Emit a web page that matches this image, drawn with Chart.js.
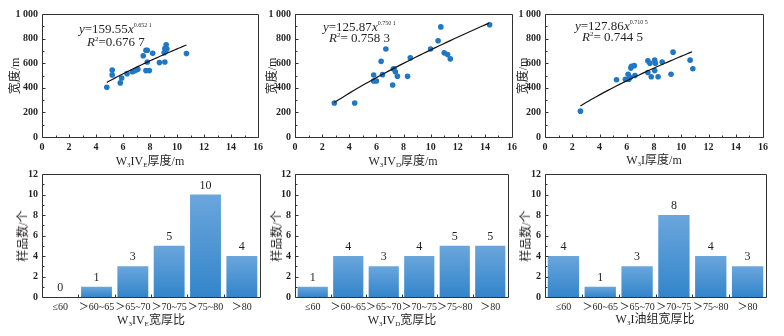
<!DOCTYPE html>
<html>
<head>
<meta charset="utf-8">
<script src="https://cdn.jsdelivr.net/npm/chart.js@4.4.0/dist/chart.umd.min.js"></script>
<style>
  html, body { margin: 0; padding: 0; background: #fff; }
  #wrap { position: relative; width: 784px; height: 336px; overflow: hidden; }
  #wrap canvas { position: absolute; left: 0; top: 0; }
  .txt { position: absolute; font-family: 'Liberation Serif', 'Noto Sans CJK SC', serif; color: #231f20; white-space: nowrap; line-height: 1; }
  .ttl { font-size: 12px; transform: translate(-50%, -50%); }
  .ytl { font-size: 12px; transform: translate(-50%, -50%) rotate(-90deg); }
  .eq { font-size: 13px; }
  .eq sup { font-size: 6px; vertical-align: 6px; }
  .eq .r2 { font-size: 7px; vertical-align: 5px; }
  sub { font-size: 7px; vertical-align: -2px; }
</style>
</head>
<body>
<div id="wrap">
  <canvas id="s1" width="784" height="336"></canvas>
  <canvas id="s2" width="784" height="336"></canvas>
  <canvas id="s3" width="784" height="336"></canvas>
  <canvas id="b1" width="784" height="336"></canvas>
  <canvas id="b2" width="784" height="336"></canvas>
  <canvas id="b3" width="784" height="336"></canvas>

  <!-- regression equations -->
  <div class="txt eq" style="left:79px;top:22px"><i>y</i>=159.55<i>x</i><sup>0.652 1</sup></div>
  <div class="txt eq" style="left:87px;top:35px"><i>R</i><span class="r2">2</span>=0.676 7</div>
  <div class="txt eq" style="left:323px;top:20px"><i>y</i>=125.87<i>x</i><sup>0.750 1</sup></div>
  <div class="txt eq" style="left:329px;top:31px"><i>R</i><span class="r2">2</span>= 0.758 3</div>
  <div class="txt eq" style="left:575px;top:19px"><i>y</i>=127.86<i>x</i><sup>0.710 5</sup></div>
  <div class="txt eq" style="left:582px;top:30px"><i>R</i><span class="r2">2</span>= 0.744 5</div>

  <!-- axis titles -->
  <div class="txt ytl" style="left:15px;top:76px">宽度/m</div>
  <div class="txt ytl" style="left:272px;top:76px">宽度/m</div>
  <div class="txt ytl" style="left:523px;top:76px">宽度/m</div>
  <div class="txt ttl" style="left:150px;top:162px">W<sub>3</sub>IV<sub>E</sub>厚度/m</div>
  <div class="txt ttl" style="left:403px;top:162px">W<sub>3</sub>IV<sub>D</sub>厚度/m</div>
  <div class="txt ttl" style="left:654px;top:161px">W<sub>3</sub>I厚度/m</div>

  <div class="txt ytl" style="left:23px;top:236px">样品数/个</div>
  <div class="txt ytl" style="left:277px;top:236px">样品数/个</div>
  <div class="txt ytl" style="left:526px;top:236px">样品数/个</div>
  <div class="txt ttl" style="left:151px;top:321px">W<sub>3</sub>IV<sub>E</sub>宽厚比</div>
  <div class="txt ttl" style="left:402px;top:321px">W<sub>3</sub>IV<sub>D</sub>宽厚比</div>
  <div class="txt ttl" style="left:655px;top:320px">W<sub>3</sub>I油组宽厚比</div>
</div>

<script>
// thickness (m) vs width (m) of each sand body
const thickE = [4.8, 5.2, 5.2, 5.8, 5.9, 6.3, 6.7, 6.9, 7.1, 7.5, 7.7, 7.8, 7.7, 7.95, 7.8, 8.2, 8.7, 9.1, 9.2, 9.1, 9.25, 9.15, 9.05, 10.7];
const widthE = [405, 505, 545, 440, 480, 515, 530, 540, 550, 660, 705, 705, 540, 540, 610, 680, 605, 610, 750, 720, 715, 700, 685, 678];

const thickD = [2.9, 4.4, 5.8, 5.8, 6.0, 6.35, 6.45, 6.7, 7.2, 7.25, 7.3, 7.4, 7.55, 8.3, 8.5, 10.0, 10.55, 10.75, 11.0, 11.25, 11.45, 14.35];
const widthD = [276, 276, 504, 455, 455, 615, 507, 715, 423, 553, 555, 531, 493, 493, 643, 715, 783, 895, 684, 670, 635, 912];

const thickI = [2.6, 5.25, 5.9, 6.1, 6.15, 6.25, 6.3, 6.35, 6.55, 6.6, 7.55, 7.7, 8.05, 8.1, 8.6, 7.55, 7.8, 8.05, 8.3, 9.25, 9.4, 10.65, 10.85];
const widthI = [210, 465, 470, 510, 470, 485, 560, 575, 580, 500, 620, 600, 625, 600, 610, 525, 490, 540, 490, 510, 690, 625, 555];

// power-law fits y = a * x^b, drawn between the listed thickness limits
const fitE = [159.55, 0.6521], rangeE = [4.8, 10.7];
const fitD = [125.87, 0.7501], rangeD = [2.9, 14.3];
const fitI = [127.86, 0.7105], rangeI = [2.6, 10.8];

// width/thickness ratio histograms
const ratioBins = ['≤60', '＞60~65', '＞65~70', '＞70~75', '＞75~80', '＞80'];
const countE = [0, 1, 3, 5, 10, 4];
const countD = [1, 4, 3, 4, 5, 5];
const countI = [4, 1, 3, 8, 4, 3];

const FONT = "'Liberation Serif', 'Noto Sans CJK SC', serif";
const INK = '#231f20';
const W = 784, H = 336;
const YW = 40, XH = 30;   // fixed axis box sizes
const numFont = { family: FONT, size: 10, weight: 'bold' };

// border box plus short inward ticks (major and minor)
const framePlugin = {
  id: 'frame',
  afterDatasetsDraw(chart) {
    const { ctx, chartArea: a, scales } = chart;
    const kind = chart.options.plugins.frame.kind;
    ctx.save();
    ctx.strokeStyle = '#333';
    ctx.lineWidth = 1;
    ctx.beginPath();
    const L = Math.round(a.left) + 0.5, R = Math.round(a.right) + 0.5;
    const T = Math.round(a.top) + 0.5, B = Math.round(a.bottom) + 0.5;
    ctx.rect(L, T, R - L, B - T);
    const yS = scales.y, xS = scales.x;
    const yMax = yS.max, yStep = kind === 'bar' ? 2 : 200;
    for (let v = 0; v <= yMax; v += yStep / 2) {
      const p = Math.round(yS.getPixelForValue(v)) + 0.5;
      const len = (v % yStep === 0) ? 3 : 2;
      ctx.moveTo(L, p); ctx.lineTo(L + len, p);
    }
    if (kind === 'bar') {
      const n = chart.data.labels.length;
      for (let i = 0; i < n - 1; i++) {
        const p = Math.round((xS.getPixelForValue(i) + xS.getPixelForValue(i + 1)) / 2) + 0.5;
        ctx.moveTo(p, B); ctx.lineTo(p, B - 3);
      }
    } else {
      for (let v = 0; v <= 16; v += 1) {
        const p = Math.round(xS.getPixelForValue(v)) + 0.5;
        const len = (v % 2 === 0) ? 3 : 2;
        ctx.moveTo(p, B); ctx.lineTo(p, B - len);
      }
    }
    ctx.stroke();
    ctx.restore();
  }
};

// count labels above the bars
const valuePlugin = {
  id: 'values',
  afterDatasetsDraw(chart) {
    if (chart.options.plugins.frame.kind !== 'bar') return;
    const { ctx } = chart;
    const meta = chart.getDatasetMeta(0);
    const vals = chart.data.datasets[0].data;
    ctx.save();
    ctx.fillStyle = INK;
    ctx.font = '12px ' + FONT;
    ctx.textAlign = 'center';
    ctx.textBaseline = 'bottom';
    meta.data.forEach((bar, i) => ctx.fillText(String(vals[i]), bar.x, bar.y - 3));
    ctx.restore();
  }
};

function padFor(area) {
  return { left: area.left - YW, top: area.top, right: W - area.right, bottom: H - area.bottom - XH };
}

function axisCommon() {
  return {
    grid: { display: false, drawTicks: false },
    border: { display: false },
  };
}

function fitCurve(fit, range) {
  const pts = [];
  const n = 40;
  for (let i = 0; i <= n; i++) {
    const x = range[0] + (range[1] - range[0]) * i / n;
    pts.push({ x: x, y: fit[0] * Math.pow(x, fit[1]) });
  }
  return pts;
}

function scatterChart(id, xs, ys, fit, range, area) {
  new Chart(document.getElementById(id), {
    type: 'scatter',
    data: {
      datasets: [
        {
          data: xs.map((x, i) => ({ x: x, y: ys[i] })),
          backgroundColor: '#1f77c6',
          borderWidth: 0,
          pointRadius: 2.8,
          order: 1
        },
        {
          type: 'line',
          data: fitCurve(fit, range),
          borderColor: '#111',
          borderWidth: 1.2,
          pointRadius: 0,
          fill: false,
          order: 0
        }
      ]
    },
    options: {
      responsive: false,
      animation: false,
      layout: { padding: padFor(area) },
      plugins: { legend: { display: false }, tooltip: { enabled: false }, frame: { kind: 'scatter' } },
      scales: {
        x: Object.assign(axisCommon(), {
          min: 0, max: 16,
          ticks: { stepSize: 2, color: INK, padding: 4, font: numFont },
          afterFit(s) { s.height = XH; }
        }),
        y: Object.assign(axisCommon(), {
          min: 0, max: 1000,
          ticks: {
            stepSize: 200, color: INK, padding: 4, font: numFont,
            callback: v => v === 1000 ? '1 000' : v
          },
          afterFit(s) { s.width = YW; }
        })
      }
    },
    plugins: [framePlugin]
  });
}

function barFill(ctx) {
  const chart = ctx.chart;
  const solid = '#4a93d3';
  if (!chart.chartArea || !chart.scales.y) return solid;
  const y = chart.scales.y;
  const top = y.getPixelForValue(ctx.raw);
  const bot = y.getPixelForValue(0);
  if (bot - top < 1) return solid;
  const g = chart.ctx.createLinearGradient(0, top, 0, bot);
  g.addColorStop(0, '#6aa6dc');
  g.addColorStop(1, '#3385cb');
  return g;
}

function barChart(id, counts, area) {
  new Chart(document.getElementById(id), {
    type: 'bar',
    data: {
      labels: ratioBins,
      datasets: [{
        data: counts,
        backgroundColor: barFill,
        borderWidth: 0,
        barPercentage: 0.85,
        categoryPercentage: 1.0
      }]
    },
    options: {
      responsive: false,
      animation: false,
      layout: { padding: padFor(area) },
      plugins: { legend: { display: false }, tooltip: { enabled: false }, frame: { kind: 'bar' } },
      scales: {
        x: Object.assign(axisCommon(), {
          ticks: { color: INK, padding: 4, maxRotation: 0, autoSkip: false, font: { family: FONT, size: 10 } },
          afterFit(s) { s.height = XH; }
        }),
        y: Object.assign(axisCommon(), {
          min: 0, max: 12,
          ticks: { stepSize: 2, color: INK, padding: 4, font: numFont },
          afterFit(s) { s.width = YW; }
        })
      }
    },
    plugins: [framePlugin, valuePlugin]
  });
}

scatterChart('s1', thickE, widthE, fitE, rangeE, { left: 42, top: 14, right: 258, bottom: 137 });
scatterChart('s2', thickD, widthD, fitD, rangeD, { left: 295, top: 14, right: 512, bottom: 137 });
scatterChart('s3', thickI, widthI, fitI, rangeI, { left: 545, top: 14, right: 763, bottom: 137 });

barChart('b1', countE, { left: 42, top: 174, right: 260, bottom: 297 });
barChart('b2', countD, { left: 295, top: 174, right: 508, bottom: 297 });
barChart('b3', countI, { left: 545, top: 174, right: 766, bottom: 297 });
</script>
</body>
</html>
